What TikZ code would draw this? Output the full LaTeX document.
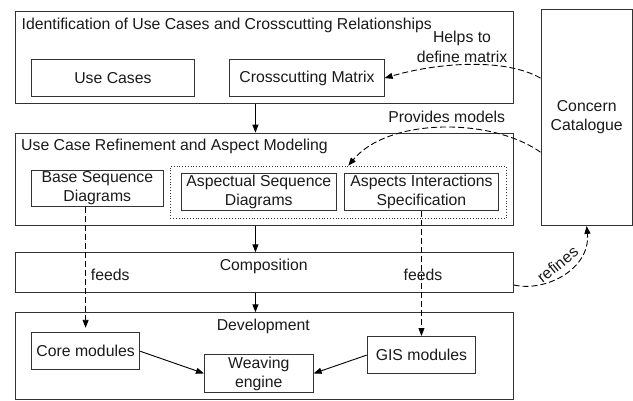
\documentclass[tikz,border=0pt]{standalone}
\usepackage{fontspec}
\setmainfont{Liberation Sans}
\usetikzlibrary{arrows.meta,calc}
\definecolor{linec}{HTML}{333333}
\definecolor{textc}{HTML}{1A1A1A}
\begin{document}
\begin{tikzpicture}[x=1pt,y=-1pt,
  font=\fontsize{15.8}{19}\selectfont, text=textc,
  panel/.style={draw=linec, line width=0.9pt, inner sep=0pt, anchor=north west, align=center},
  txt/.style={inner sep=0pt, align=center},
  flow/.style={draw=black, line width=0.9pt, -{Triangle[length=8pt,width=6pt]}},
  dflow/.style={flow, dash pattern=on 6pt off 3pt},
]
\useasboundingbox (0,0) rectangle (633,400);

% process stages
\node[panel, minimum width=498pt, minimum height=92pt]   (ident)  at (14.7,11)    {};
\node[panel, minimum width=498pt, minimum height=92.3pt] (refine) at (14.7,132.7) {};
\node[panel, minimum width=498pt, minimum height=39.4pt] (comp)   at (14.7,252.3) {};
\node[panel, minimum width=498pt, minimum height=86.7pt] (dev)    at (14.7,312.3) {};
\node[panel, minimum width=91.5pt, minimum height=216pt] (concern) at (540.5,9) {Concern\\Catalogue};

% stage titles
\node[txt, anchor=west] (identT)  at (21.5,25)    {Identification of Use Cases and Crosscutting Relationships};
\node[txt, anchor=west] (refineT) at (21,146.7)   {Use Case Refinement and Aspect Modeling};
\node[txt]              (compT)   at (263.7,266.7) {Composition};
\node[txt]              (devT)    at (263.3,326.7) {Development};

% artefacts
\node[panel, minimum width=163.6pt, minimum height=36.7pt] (usecases) at (30.7,59.3)  {Use Cases};
\node[panel, minimum width=154.4pt, minimum height=36.7pt] (matrix)   at (229.3,59.3) {Crosscutting Matrix};
\node[panel, minimum width=132.3pt, minimum height=36pt]   (baseseq)  at (30.7,170)   {Base Sequence\\Diagrams};
\node[draw=linec, line width=0.8pt, dotted, inner sep=0pt, anchor=north west,
      minimum width=335.7pt, minimum height=52.3pt]         (dotted)   at (170,165.7)  {};
\node[panel, minimum width=155.3pt, minimum height=37.3pt] (aspseq)   at (180.7,172.7) {Aspectual Sequence\\Diagrams};
\node[panel, minimum width=154.6pt, minimum height=37.3pt] (aspint)   at (343.7,172.7) {Aspects Interactions\\Specification};
\node[panel, minimum width=108.3pt, minimum height=37pt]   (core)     at (31,332.3)    {Core modules};
\node[panel, minimum width=108.7pt, minimum height=37.4pt] (weave)    at (204,354.3)   {Weaving\\engine};
\node[panel, minimum width=108.6pt, minimum height=37.3pt] (gis)      at (366.7,336)   {GIS modules};

% main flow
\draw[flow] ([xshift=-8.7pt]ident.south)  -- ([xshift=-8.7pt]refine.north);
\draw[flow] ([xshift=-8.7pt]refine.south) -- ([xshift=-8.7pt]comp.north);
\draw[flow] ([xshift=-8.7pt]comp.south)   -- ([xshift=-8.7pt]dev.north);
\draw[flow] (core.east) -- (weave.west);
\draw[flow] (gis.west)  -- (weave.east);

% feeds
\draw[dflow, shorten >=4.5pt] (core.north |- baseseq.south) -- (core.north);
\draw[dflow] (aspint.south) -- (gis.north);
\node[txt, anchor=west] (feedL) at (90.7,275) {feeds};
\node[txt]              (feedR) at (423,275)  {feeds};

% concern catalogue relations
\draw[dflow] (concern.west |- matrix.east) .. controls +(-35,-20) and +(55,-16) .. (matrix.east);
\node[txt, font=\fontsize{15.8}{20}\selectfont] (helps) at (462,47) {Helps to\\define matrix};

\draw[dflow] ([yshift=-34.7pt]concern.west) .. controls +(-50,-35) and +(40,-48) .. ([xshift=10pt]dotted.north);
\node[txt] (provides) at (446.7,116.7) {Provides models};

\draw[dflow] ([yshift=-12.5pt]comp.east) .. controls +(32,7.5) and +(4,43) .. (concern.south);
\node[txt, rotate=39] (refines) at (557.5,264.5) {refines};
\end{tikzpicture}
\end{document}
